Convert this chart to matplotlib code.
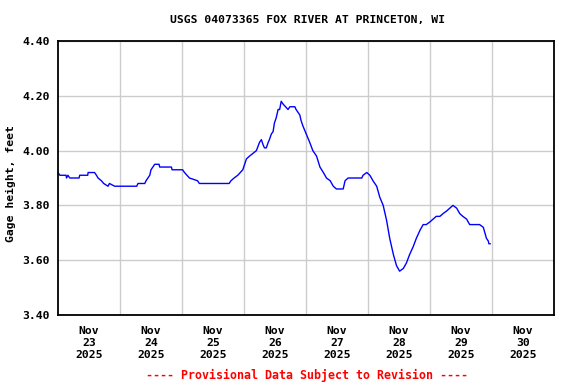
import matplotlib
matplotlib.use('Agg')
import matplotlib.pyplot as plt
from matplotlib.ticker import FixedLocator

# gage height readings, time in days after Nov 23 00:00
days = [0.00, 0.03, 0.13, 0.137, 0.16, 0.19, 0.34, 0.35, 0.48, 0.485, 0.59,
        0.62, 0.646, 0.70, 0.737, 0.807, 0.83, 0.914, 1.27, 1.29, 1.40, 1.42,
        1.48, 1.50, 1.53, 1.56, 1.63, 1.64, 1.83, 1.84, 2.01, 2.04, 2.08, 2.12,
        2.25, 2.28, 2.76, 2.79, 2.84, 2.90, 2.94, 2.98, 3.01, 3.04, 3.09, 3.145,
        3.20, 3.25, 3.28, 3.31, 3.33, 3.36, 3.39, 3.41, 3.44, 3.47, 3.49, 3.52,
        3.55, 3.575, 3.60, 3.63, 3.67, 3.71, 3.74, 3.82, 3.84, 3.87, 3.90, 3.92,
        3.95, 4.005, 4.06, 4.11, 4.17, 4.225, 4.28, 4.33, 4.39, 4.44, 4.49, 4.60,
        4.63, 4.68, 4.90, 4.92, 4.98, 5.03, 5.08, 5.14, 5.19, 5.245, 5.30, 5.35,
        5.41, 5.46, 5.51, 5.57, 5.62, 5.67, 5.73, 5.78, 5.84, 5.89, 5.94, 6.00,
        6.05, 6.10, 6.16, 6.21, 6.27, 6.32, 6.37, 6.43, 6.48, 6.53, 6.59, 6.64,
        6.69, 6.75, 6.80, 6.86, 6.91, 6.94, 6.95, 6.97]
gage = [3.92, 3.91, 3.91, 3.90, 3.91, 3.90, 3.90, 3.91, 3.91, 3.92, 3.92,
        3.91, 3.90, 3.89, 3.88, 3.87, 3.88, 3.87, 3.87, 3.88, 3.88, 3.89,
        3.91, 3.93, 3.94, 3.95, 3.95, 3.94, 3.94, 3.93, 3.93, 3.92, 3.91, 3.90,
        3.89, 3.88, 3.88, 3.89, 3.90, 3.91, 3.92, 3.93, 3.95, 3.97, 3.98, 3.99,
        4.00, 4.03, 4.04, 4.02, 4.01, 4.01, 4.03, 4.04, 4.06, 4.07, 4.10, 4.12,
        4.15, 4.15, 4.18, 4.17, 4.16, 4.15, 4.16, 4.16, 4.15, 4.14, 4.13, 4.11,
        4.09, 4.06, 4.03, 4.00, 3.98, 3.94, 3.92, 3.90, 3.89, 3.87, 3.86, 3.86,
        3.89, 3.90, 3.90, 3.91, 3.92, 3.91, 3.89, 3.87, 3.83, 3.80, 3.745, 3.68,
        3.62, 3.58, 3.56, 3.57, 3.59, 3.62, 3.65, 3.68, 3.71, 3.73, 3.73, 3.74,
        3.75, 3.76, 3.76, 3.77, 3.78, 3.79, 3.80, 3.79, 3.77, 3.76, 3.75, 3.73,
        3.73, 3.73, 3.73, 3.72, 3.68, 3.67, 3.66, 3.66]

date_labels = ['Nov\n23\n2025', 'Nov\n24\n2025', 'Nov\n25\n2025', 'Nov\n26\n2025',
               'Nov\n27\n2025', 'Nov\n28\n2025', 'Nov\n29\n2025', 'Nov\n30\n2025']
y_ticks = [3.40, 3.60, 3.80, 4.00, 4.20, 4.40]

plt.rcParams['font.family'] = ['DejaVu Sans Mono']
plt.rcParams['font.weight'] = 'bold'

fig = plt.figure(figsize=(5.76, 3.84), dpi=100)
ax = fig.add_axes([58 / 576, 1 - 315 / 384, 496 / 576, 274 / 384])

ax.plot(days, gage, color='#0000ff', lw=1.0)

ax.set_xlim(0, 8)
ax.set_ylim(3.40, 4.40)

# gridlines at midnight, labels at noon
ax.xaxis.set_major_locator(FixedLocator(range(1, 8)))
ax.xaxis.set_minor_locator(FixedLocator([i + 0.5 for i in range(8)]))
ax.set_xticklabels([], minor=False)
ax.set_xticklabels(date_labels, minor=True, fontsize=8.2, fontweight='bold',
                   linespacing=1.25)
ax.set_yticks(y_ticks)
ax.set_yticklabels(['%.2f' % v for v in y_ticks], fontsize=8.2, fontweight='bold')
ax.tick_params(which='both', length=0)
ax.tick_params(axis='x', which='minor', pad=8)
ax.tick_params(axis='y', pad=6)
ax.grid(True, which='major', color='#cccccc', lw=1)
ax.set_axisbelow(True)
for s in ax.spines.values():
    s.set_linewidth(1.3)
    s.set_color('black')

ax.set_ylabel('Gage height, feet', fontsize=8.2, fontweight='bold', va='center')
ax.yaxis.set_label_coords(-0.094, 0.48)
fig.text(307 / 576, 1 - 20 / 384, 'USGS 04073365 FOX RIVER AT PRINCETON, WI',
         ha='center', va='center', fontsize=8.2, fontweight='bold')
fig.text(307 / 576, 1 - 375 / 384, '---- Provisional Data Subject to Revision ----',
         ha='center', va='center', fontsize=8.4, fontweight='bold', color='#ff0000')

fig.savefig('out.png', dpi=100)
